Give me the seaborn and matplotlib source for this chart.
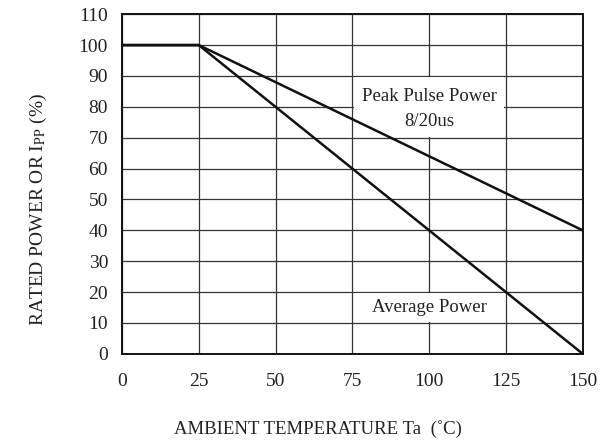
import seaborn as sns
import matplotlib.pyplot as plt
import pandas as pd
from matplotlib.patches import Rectangle

# derating curves
temp = [0, 25, 150]
peak_pulse = [100, 100, 40]
average = [100, 100, 0]

x_ticks = [0, 25, 50, 75, 100, 125, 150]
y_ticks = list(range(0, 111, 10))

sns.set_style("white")
plt.rcParams['font.family'] = ['Liberation Serif', 'DejaVu Serif']
plt.rcParams['mathtext.fontset'] = 'stix'

df = pd.DataFrame({"temp": temp + temp,
                   "power": peak_pulse + average,
                   "curve": ["peak"] * 3 + ["avg"] * 3})

fig, ax = plt.subplots(figsize=(6.16, 4.44), dpi=100)
fig.subplots_adjust(left=0.198, right=0.946, top=0.968, bottom=0.203)

sns.lineplot(data=df, x="temp", y="power", units="curve", estimator=None,
             color="#111111", linewidth=1.8, ax=ax, zorder=3)

ax.set_xlim(0, 150)
ax.set_ylim(0, 110)
ax.set_xticks(x_ticks)
ax.set_yticks(y_ticks)
ax.grid(True, color="#333333", linewidth=0.9)
ax.set_axisbelow(True)
for s in ax.spines.values():
    s.set_color("#111111")
    s.set_linewidth(1.4)
ax.tick_params(labelsize=14, length=0, colors="#222222")
ax.tick_params(axis="x", pad=14)
ax.tick_params(axis="y", pad=10)

ax.set_xlabel("AMBIENT TEMPERATURE Ta  (˚C)", fontsize=13.5, color="#222222")
ax.set_ylabel(r"RATED POWER OR I$_{\mathrm{PP}}$ (%)", fontsize=14, color="#222222")
ax.xaxis.set_label_coords(0.425, -0.195)
ax.yaxis.set_label_coords(-0.159, 0.426)

# white patches hiding the grid behind the labels
ax.add_patch(Rectangle((75.5, 70.3), 49, 19.4, facecolor="white", edgecolor="none", zorder=1))
ax.add_patch(Rectangle((75.5, 10.3), 49, 9.4, facecolor="white", edgecolor="none", zorder=1))
ax.text(100, 83.2, "Peak Pulse Power", ha="center", va="center",
        fontsize=13.5, color="#222222", zorder=2)
ax.text(100, 75.1, "8/20us", ha="center", va="center",
        fontsize=13.5, color="#222222", zorder=2)
ax.text(100, 15, "Average Power", ha="center", va="center",
        fontsize=13.5, color="#222222", zorder=2)

plt.savefig("out.png", dpi=100)
